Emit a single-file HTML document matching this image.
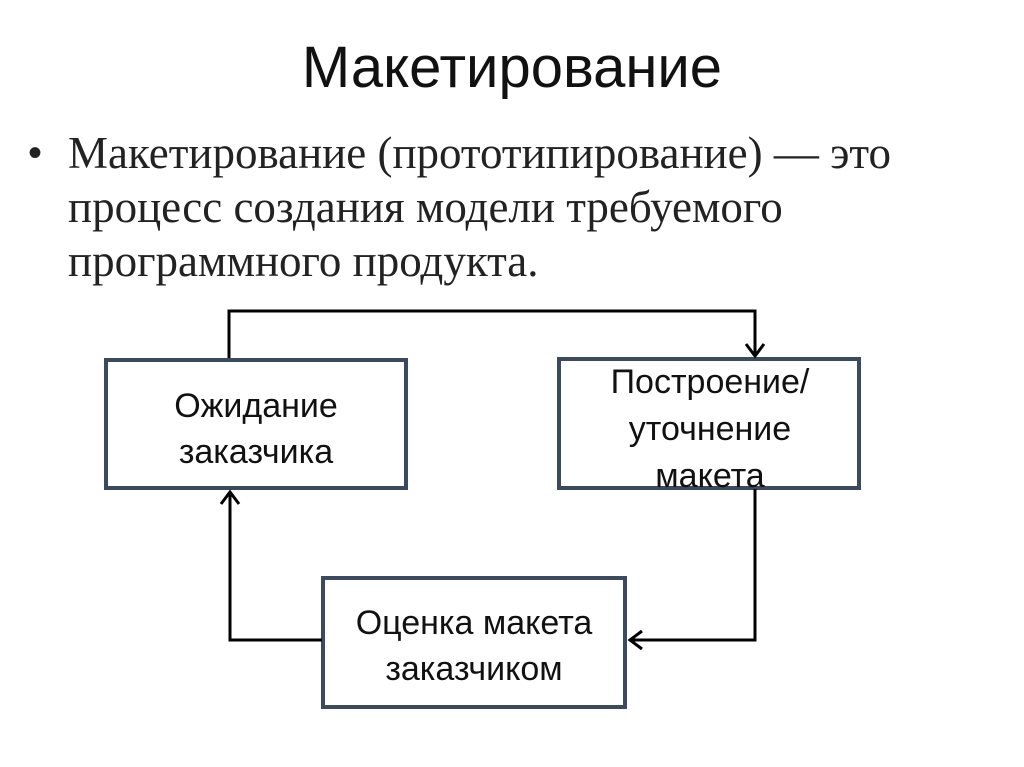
<!DOCTYPE html>
<html><head><meta charset="utf-8"><style>
body{margin:0;width:1024px;height:767px;background:#fff;position:relative;overflow:hidden}
.t{position:absolute;left:0;width:1024px;text-align:center;top:34px;font:58px "Liberation Sans",sans-serif;color:#111}
.b{position:absolute;left:68px;top:126px;font:45px/54px "Liberation Serif",serif;color:#222;white-space:nowrap}
.bul{position:absolute;left:28px;top:126px;font:40px/54px "Liberation Sans",sans-serif;color:#222}
</style></head><body>
<div class="t">Макетирование</div>
<div class="bul">•</div>
<div class="b">Макетирование (прототипирование) — это<br>процесс создания модели требуемого<br>программного продукта.</div>
<svg width="1024" height="767" style="position:absolute;left:0;top:0" font-family="Liberation Sans, sans-serif" font-size="34" fill="#111">
<g fill="#fff" stroke="#3b4a5e" stroke-width="4">
<rect x="106" y="360" width="300" height="128"/>
<rect x="559" y="359" width="300" height="129"/>
<rect x="323" y="578" width="302" height="129"/>
</g>
<g fill="none" stroke="#000" stroke-width="3">
<polyline points="229,358 229,311 755,311 755,356"/>
<polyline points="746,344 755,356 764,344"/>
<polyline points="755,489 755,640 630,640"/>
<polyline points="642,631 630,640 642,649"/>
<polyline points="322,640 230,640 230,492"/>
<polyline points="221,504 230,492 239,504"/>
</g>
<g text-anchor="middle">
<text x="256" y="417">Ожидание</text>
<text x="256" y="463">заказчика</text>
<text x="710" y="393">Построение/</text>
<text x="710" y="440">уточнение</text>
<text x="710" y="487">макета</text>
<text x="474" y="634">Оценка макета</text>
<text x="474" y="680">заказчиком</text>
</g>
</svg>
</body></html>
